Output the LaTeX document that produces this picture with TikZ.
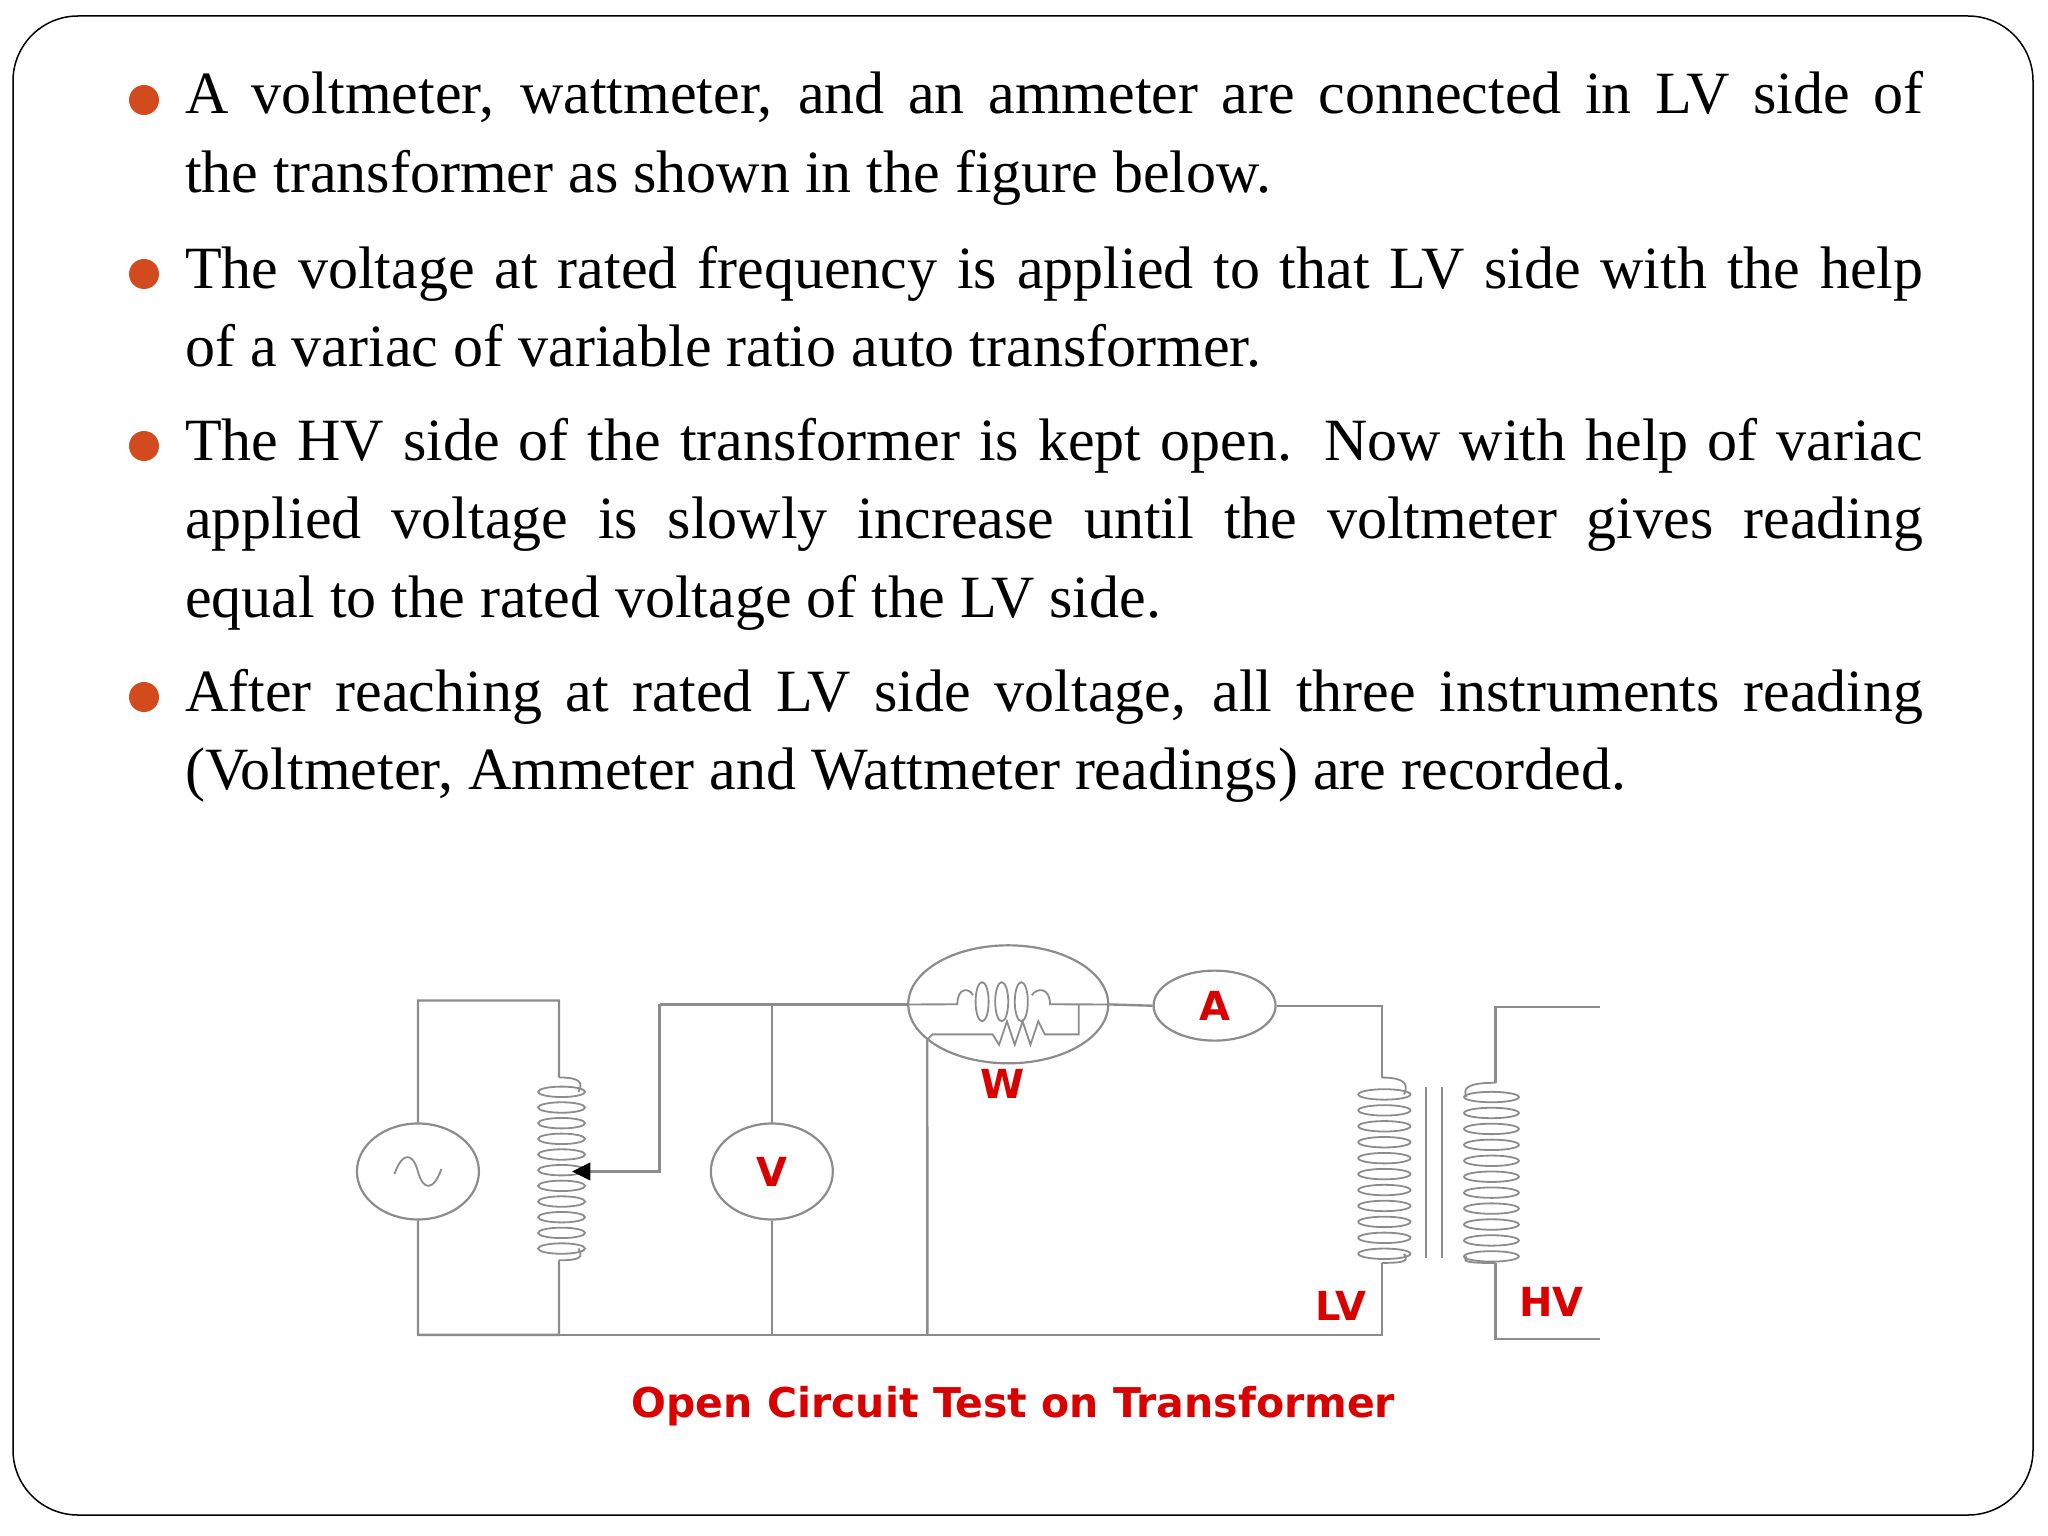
\documentclass[tikz,border=0pt]{standalone}
\usepackage{fontspec}
\setmainfont{Liberation Serif}
\newfontfamily\capfont{DejaVu Sans}
\usetikzlibrary{shapes.geometric}
\definecolor{bulc}{HTML}{D24A1E}
\definecolor{wirec}{HTML}{8C8C8C}
\begin{document}
\begin{tikzpicture}[x=1pt,y=-1pt,
  wire/.style={draw=wirec,line width=2.4pt},
  thin/.style={draw=wirec,line width=1.8pt},
  meter/.style={ellipse,draw=wirec,line width=2.2pt,fill=white,inner sep=0pt},
  lbl/.style={text=red!85!black,font=\capfont\bfseries\fontsize{40}{40}\selectfont},
  txt/.style={anchor=base west,inner sep=0pt,font=\fontsize{60}{60}\selectfont},
  bul/.style={circle,fill=bulc,minimum size=30pt,inner sep=0pt}]
\useasboundingbox (0,0) rectangle (2048,1536);
\draw[line width=1.5pt,rounded corners=65pt] (13,16) rectangle (2033,1515);
% text
\foreach \y in {114,288,460,711} \node[bul] at (144,\y-14) {};
\node[txt] (l1) at (185,114) {\makebox[1738pt][s]{A voltmeter, wattmeter, and an ammeter are connected in LV side of}};
\node[txt] (l2) at (185,192) {the transformer as shown in the figure below.};
\node[txt] (l3) at (185,288) {\makebox[1738pt][s]{The voltage at rated frequency is applied to that LV side with the help}};
\node[txt] (l4) at (185,366) {of a variac of variable ratio auto transformer.};
\node[txt] (l5) at (185,460) {\makebox[1738pt][s]{The HV side of the transformer is kept open. Now with help of variac}};
\node[txt] (l6) at (185,538) {\makebox[1738pt][s]{applied voltage is slowly increase until the voltmeter gives reading}};
\node[txt] (l7) at (185,617) {equal to the rated voltage of the LV side.};
\node[txt] (l8) at (185,711) {\makebox[1738pt][s]{After reaching at rated LV side voltage, all three instruments reading}};
\node[txt] (l9) at (185,789) {(Voltmeter, Ammeter and Wattmeter readings) are recorded.};
\begin{scope}[scale=1.306]
% source
\node[meter,minimum width=122pt,minimum height=96pt] (src) at (320,897) {};
\draw[thin] (302,899) .. controls (308,882) and (316,882) .. (320,897) .. controls (324,912) and (332,912) .. (338,895);
\coordinate (stl) at (320,766); \coordinate (str) at (428,766);
\coordinate (sbl) at (320,1022); \coordinate (vbr) at (428,1022);
\draw[wire] (src.north) -- (stl) -- (str) -- (428,825);
\draw[wire] (src.south) -- (sbl) -- (vbr) -- (428,965);
% variac coil
\foreach \i in {0,...,10} \draw[thin] (430,836+\i*12) ellipse (18pt and 4pt);
\draw[thin] (428,825) .. controls (446,825) and (446,830) .. (443,836);
\draw[thin] (443,956) .. controls (446,962) and (446,965) .. (428,965);
\coordinate (tap) at (447,897); \coordinate (tapc) at (505,897); \coordinate (tapt) at (505,769);
\draw[wire] (tapt) -- (tapc) -- (tap);
\fill[black] (438,897) -- (452,890) -- (452,904) -- cycle;
% voltmeter
\node[meter,minimum width=122pt,minimum height=96pt] (vm) at (591,897) {};
\node[lbl] at (vm) {V};
\coordinate (vt) at (591,769); \coordinate (vb) at (591,1022);
\draw[wire] (vm.north) -- (vt); \draw[wire] (vm.south) -- (vb);
% wattmeter
\node[meter,minimum width=200pt,minimum height=118pt] (wm) at (772,769) {};
\node[lbl] at (768,830) {W};
\draw[wire] (tapt) -- (wm.west);
\draw[thin] (wm.west) -- (733,769) .. controls (733,756) and (742,756) .. (745,762);
\foreach \i in {0,1,2} \draw[thin] (752+\i*15,767) ellipse (5pt and 15pt);
\draw[thin] (790,762) .. controls (794,756) and (804,756) .. (804,769) -- (wm.east);
\draw[thin] (826,769) -- (826,792) -- (800,792) -- (795,782) -- (789,800) -- (783,782) -- (777,800) -- (771,782) -- (765,800) -- (760,792) -- (714,792) -- (710,796);
\coordinate (wb) at (710,1022);
\draw[wire] (710,796) -- (wb);
% ammeter
\node[meter,minimum width=122pt,minimum height=70pt] (am) at (930,770) {};
\node[lbl] at (am) {A};
\draw[wire] (wm.east) -- (am.west);
\coordinate (at) at (1058,770); \coordinate (lvt) at (1058,825);
\draw[wire] (am.east) -- (at) -- (lvt);
% LV coil
\foreach \i in {0,...,10} \draw[thin] (1060,838+\i*12.2) ellipse (20pt and 4pt);
\draw[thin] (lvt) .. controls (1078,825) and (1078,832) .. (1075,838);
\draw[thin] (1075,960) .. controls (1078,965) and (1078,967) .. (1058,967);
\coordinate (lvb) at (1058,967); \coordinate (lvbb) at (1058,1022);
\draw[wire] (lvb) -- (lvbb) -- (wb) -- (vb) -- (vbr);
% core
\draw[thin] (1092,832) -- (1092,963) (1104,832) -- (1104,963);
% HV coil
\foreach \i in {0,...,10} \draw[thin] (1142,840+\i*12.2) ellipse (21pt and 4pt);
\coordinate (hvt) at (1145,829); \coordinate (hvtt) at (1145,771); \coordinate (hve1) at (1225,771);
\coordinate (hvb) at (1145,967); \coordinate (hvbb) at (1145,1025); \coordinate (hve2) at (1225,1025);
\draw[thin] (hvt) .. controls (1122,829) and (1120,834) .. (1123,840);
\draw[thin] (1123,962) .. controls (1120,966) and (1122,967) .. (hvb);
\draw[wire] (hve1) -- (hvtt) -- (hvt);
\draw[wire] (hvb) -- (hvbb) -- (hve2);
\node[lbl] at (1027,1000) {LV};
\node[lbl] at (1188,997) {HV};
\node[lbl,font=\capfont\bfseries\fontsize{41}{41}\selectfont] (cap) at (776,1077) {Open Circuit Test on Transformer};
\end{scope}
\end{tikzpicture}
\end{document}
